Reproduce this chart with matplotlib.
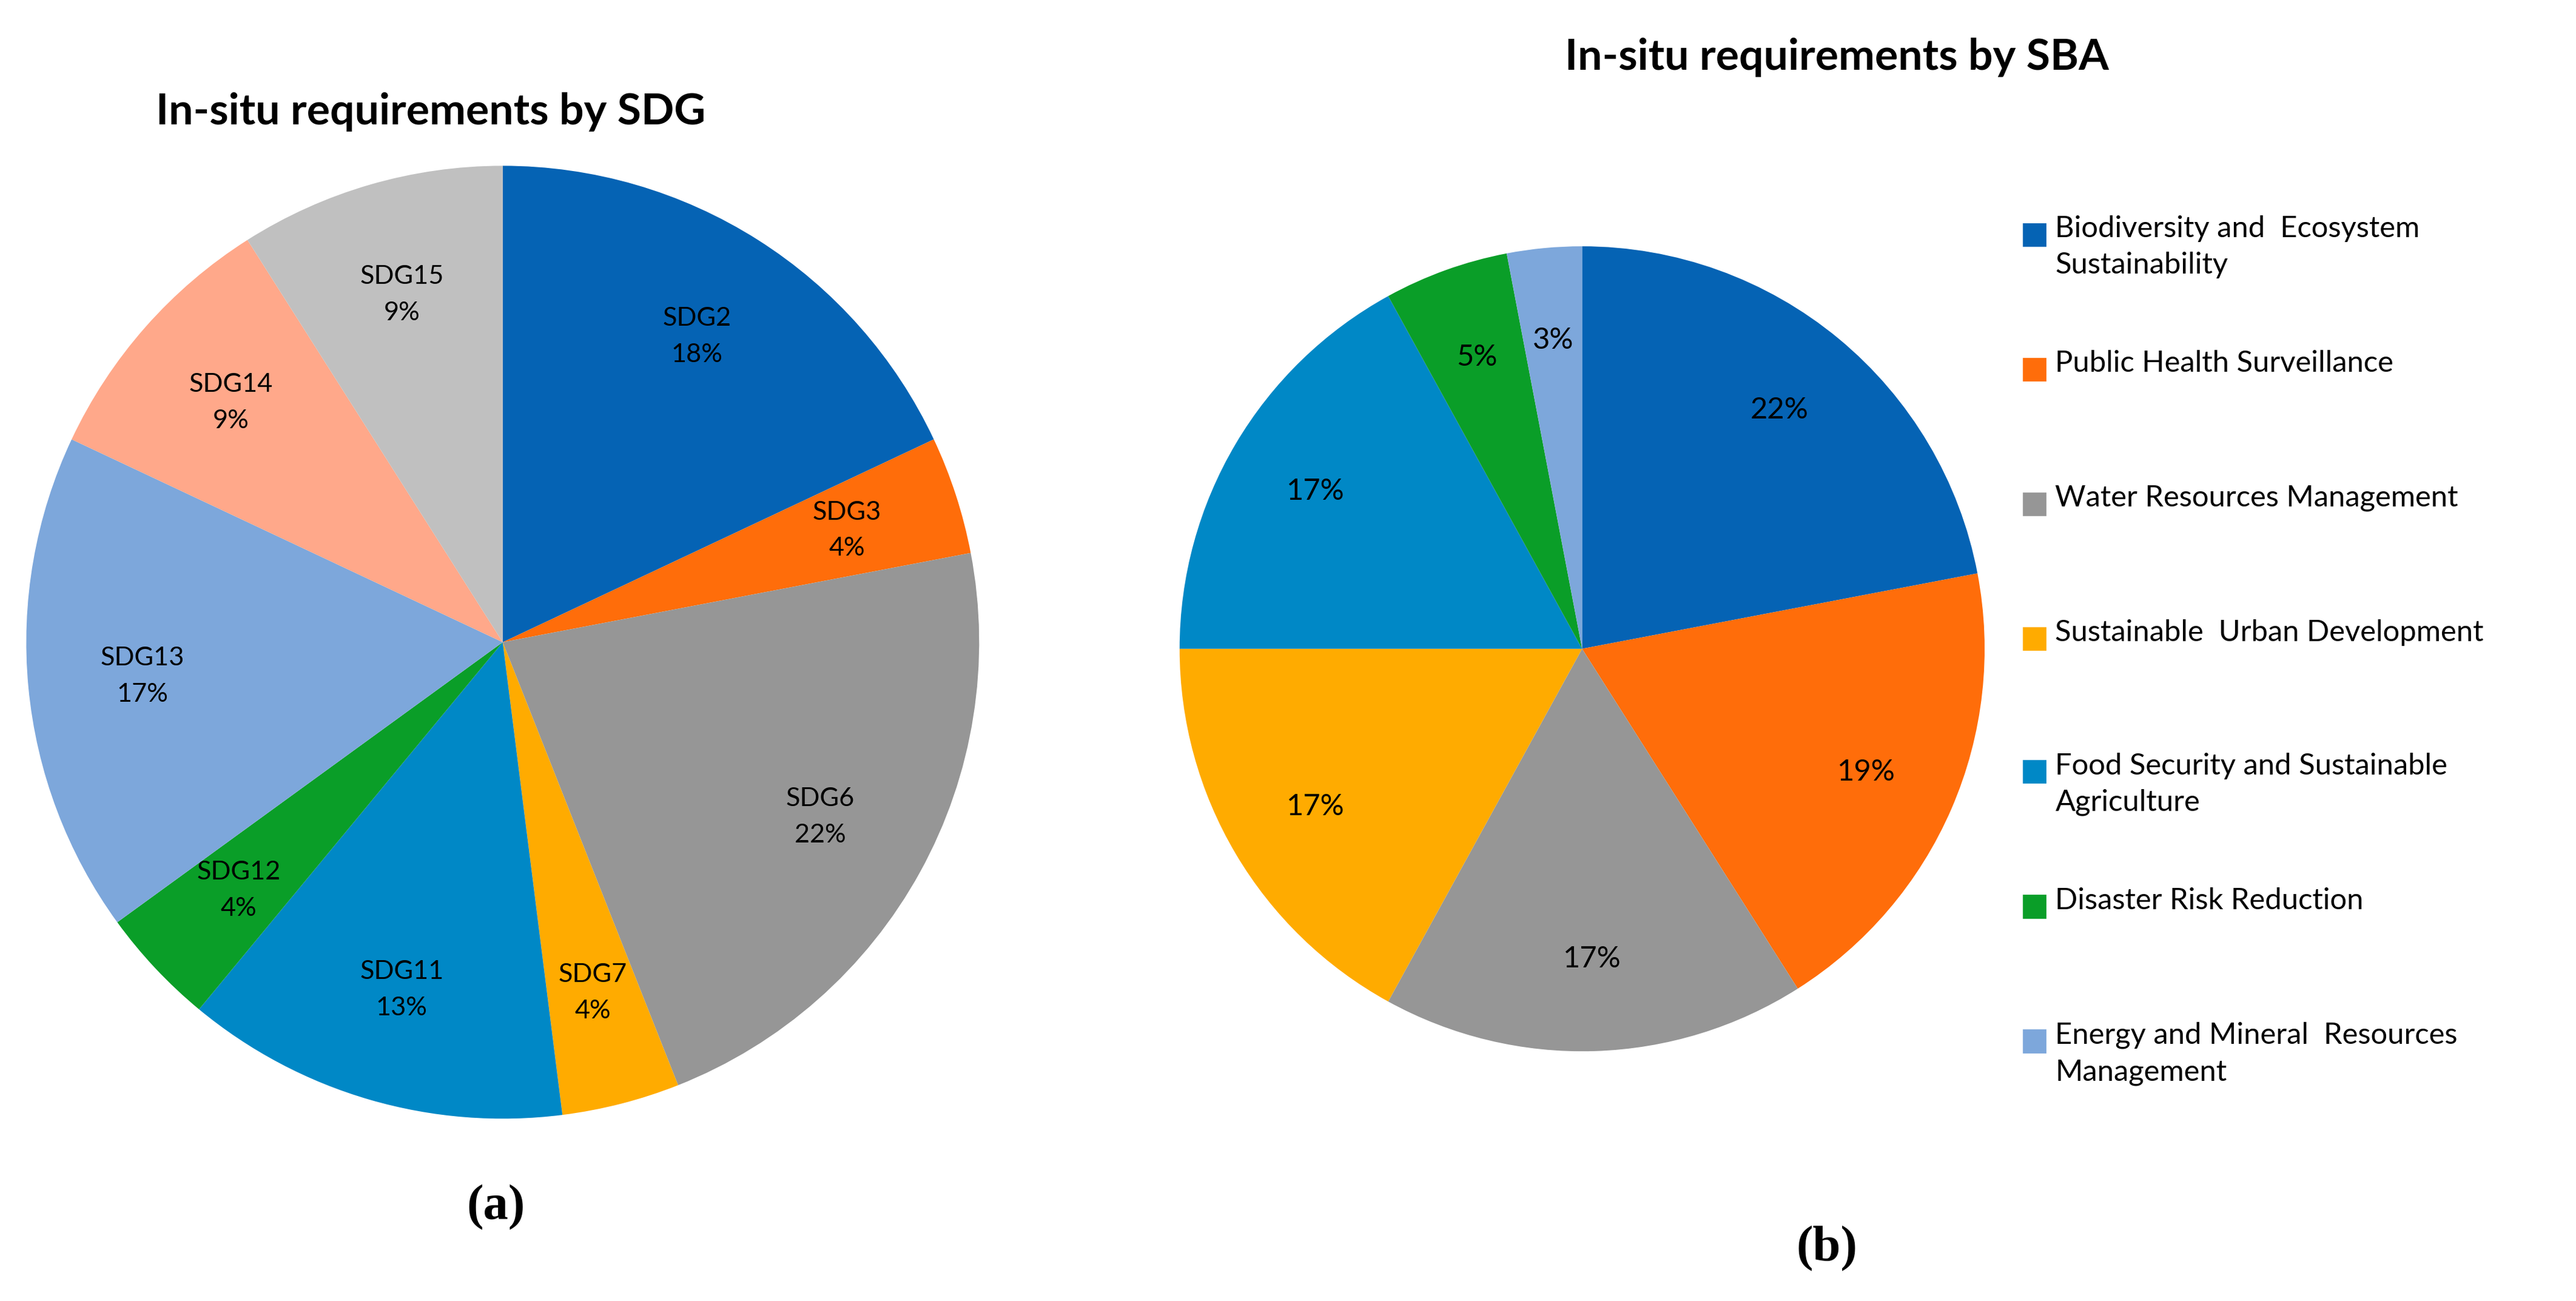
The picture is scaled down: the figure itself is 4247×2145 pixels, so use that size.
import matplotlib
matplotlib.use("Agg")
import matplotlib.pyplot as plt
from matplotlib.patches import Rectangle

sdg_labels = ["SDG2", "SDG3", "SDG6", "SDG7", "SDG11", "SDG12", "SDG13", "SDG14", "SDG15"]
sdg_values = [18, 4, 22, 4, 13, 4, 17, 9, 9]
sdg_colors = ["#0563B4", "#FF6D0A", "#969696", "#FFAB00", "#0088C6", "#0A9E28", "#7DA7DB", "#FFA88A", "#C0C0C0"]

sba_labels = ["Biodiversity and  Ecosystem\nSustainability", "Public Health Surveillance",
              "Water Resources Management", "Sustainable  Urban Development",
              "Food Security and Sustainable\nAgriculture", "Disaster Risk Reduction",
              "Energy and Mineral  Resources\nManagement"]
sba_values = [22, 19, 17, 17, 17, 5, 3]
sba_colors = ["#0563B4", "#FF6D0A", "#969696", "#FFAB00", "#0088C6", "#0A9E28", "#7DA7DB"]

plt.rcParams['font.family'] = ['Lato', 'DejaVu Sans']
W, H = 1568, 792
fig = plt.figure(figsize=(15.68, 7.92), dpi=270.86)

def ax_at(cx, cy, r):
    return fig.add_axes([(cx - r) / W, 1 - (cy + r) / H, 2 * r / W, 2 * r / H])

ax1 = ax_at(306, 391, 290)
ax1.pie(sdg_values, colors=sdg_colors, startangle=90, counterclock=False,
        labels=[f"{l}\n{v}%" for l, v in zip(sdg_labels, sdg_values)],
        labeldistance=0.76, textprops=dict(fontsize=11.5, ha='center', va='center', linespacing=1.7))
ax1.set_aspect('equal')
ax1.set_xlim(-1, 1); ax1.set_ylim(-1, 1)
fig.text(262 / W, 1 - 68 / H, "In-situ requirements by SDG", fontsize=19, fontweight='bold', ha='center', va='center')
fig.text(302 / W, 1 - 735 / H, "(a)", fontsize=22, fontweight='bold', family='Liberation Serif', ha='center', va='center')

ax2 = ax_at(963, 395, 245)
ax2.pie(sba_values, colors=sba_colors, startangle=90, counterclock=False,
        labels=[f"{v}%" for v in sba_values], labeldistance=0.77,
        textprops=dict(fontsize=13, ha='center', va='center'))
ax2.set_aspect('equal')
ax2.set_xlim(-1, 1); ax2.set_ylim(-1, 1)
fig.text(1118 / W, 1 - 35 / H, "In-situ requirements by SBA", fontsize=19, fontweight='bold', ha='center', va='center')
fig.text(1112 / W, 1 - 760 / H, "(b)", fontsize=22, fontweight='bold', family='Liberation Serif', ha='center', va='center')

ys = [143, 225, 307, 389, 470, 552, 634]
for y, lab, c in zip(ys, sba_labels, sba_colors):
    s = 13
    fig.add_artist(Rectangle((1232 / W, 1 - (y + s / 2) / H), s / W, s / H, color=c, transform=fig.transFigure))
    fig.text(1251 / W, 1 - (y - 12) / H, lab, fontsize=13, ha='left', va='top', linespacing=1.45)

fig.savefig("out.png", dpi=270.86, facecolor='white')
